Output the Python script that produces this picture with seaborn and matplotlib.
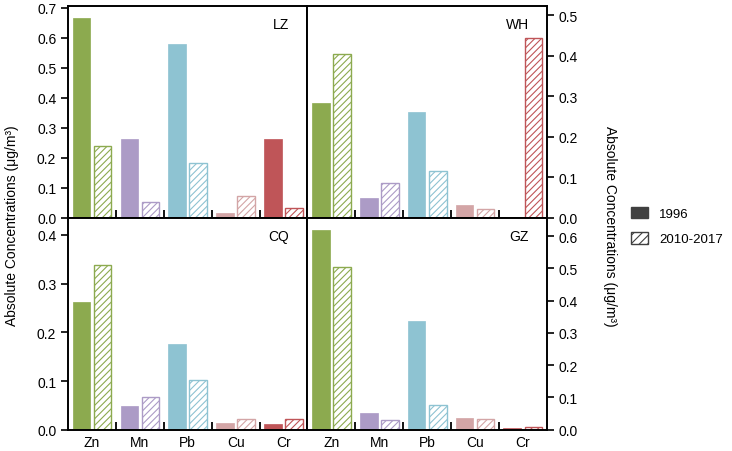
import matplotlib
matplotlib.use("Agg")
import matplotlib.pyplot as plt
from matplotlib.patches import Patch
from matplotlib.ticker import FixedLocator, FormatStrFormatter
import seaborn as sns
import pandas as pd

sns.set_theme(style="ticks")
plt.rcParams["font.family"] = ["Liberation Sans", "DejaVu Sans"]
plt.rcParams["hatch.linewidth"] = 0.8
plt.rcParams["text.color"] = "black"
plt.rcParams["xtick.color"] = "black"
plt.rcParams["ytick.color"] = "black"

elements = ["Zn", "Mn", "Pb", "Cu", "Cr"]
periods = ["1996", "2010-2017"]
colors = ["#8caa4f", "#ac9bc6", "#8ec3d2", "#d3a5a6", "#bf5558"]

lz_1996 = [0.667, 0.262, 0.581, 0.0145, 0.262]
lz_2010 = [0.240, 0.052, 0.182, 0.0725, 0.031]
wh_1996 = [0.282, 0.049, 0.262, 0.032, 0.002]
wh_2010 = [0.405, 0.085, 0.115, 0.022, 0.4435]
cq_1996 = [0.263, 0.048, 0.176, 0.0144, 0.011]
cq_2010 = [0.338, 0.068, 0.102, 0.022, 0.0226]
gz_1996 = [0.619, 0.051, 0.338, 0.037, 0.004]
gz_2010 = [0.503, 0.030, 0.077, 0.032, 0.010]

sites = ["LZ", "WH", "CQ", "GZ"]
site_data = {
    "LZ": (lz_1996, lz_2010),
    "WH": (wh_1996, wh_2010),
    "CQ": (cq_1996, cq_2010),
    "GZ": (gz_1996, gz_2010),
}
ylims = {"LZ": 0.707, "WH": 0.523, "CQ": 0.435, "GZ": 0.657}
yticks = {
    "LZ": [0, 0.1, 0.2, 0.3, 0.4, 0.5, 0.6, 0.7],
    "WH": [0, 0.1, 0.2, 0.3, 0.4, 0.5],
    "CQ": [0, 0.1, 0.2, 0.3, 0.4],
    "GZ": [0, 0.1, 0.2, 0.3, 0.4, 0.5, 0.6],
}

fig, axes = plt.subplots(2, 2, figsize=(7.32, 4.52), dpi=100)
fig.subplots_adjust(left=0.093, right=0.747, top=0.985, bottom=0.047, hspace=0, wspace=0)

for ax, site in zip(axes.flat, sites):
    old, new = site_data[site]
    df = pd.DataFrame({
        "element": elements * 2,
        "value": old + new,
        "period": [periods[0]] * 5 + [periods[1]] * 5,
    })
    sns.barplot(data=df, x="element", y="value", hue="period", order=elements,
                hue_order=periods, width=0.88, gap=0.16, ax=ax, legend=False)
    for i, bar in enumerate(ax.containers[0]):
        bar.set_facecolor(colors[i])
        bar.set_edgecolor(colors[i])
        bar.set_linewidth(0.5)
    for i, bar in enumerate(ax.containers[1]):
        bar.set_facecolor("white")
        bar.set_edgecolor(colors[i])
        bar.set_hatch("/////")
        bar.set_linewidth(1.0)

    ax.set_xlim(-0.5, 4.5)
    ax.set_ylim(0, ylims[site])
    ax.set_xlabel("")
    ax.set_ylabel("")
    ax.yaxis.set_major_locator(FixedLocator(yticks[site]))
    ax.yaxis.set_major_formatter(FormatStrFormatter("%.1f"))
    ax.xaxis.set_minor_locator(FixedLocator([0.5, 1.5, 2.5, 3.5]))
    ax.tick_params(axis="x", which="major", length=0, labelsize=10, pad=4)
    ax.tick_params(axis="x", which="minor", direction="in", length=6, width=1.3)
    ax.tick_params(axis="y", direction="out", length=5, width=1.2, labelsize=10)
    for sp in ax.spines.values():
        sp.set_visible(True)
        sp.set_linewidth(1.4)
        sp.set_color("black")
    ax.text(0.925, 0.915, site, transform=ax.transAxes, ha="right", va="center", fontsize=10)

for ax in axes[0]:
    ax.tick_params(axis="x", which="major", labelbottom=False)
for ax in axes[:, 1]:
    ax.yaxis.tick_right()
    ax.tick_params(axis="y", which="both", left=False, right=True)

label = "Absolute Concentrations (μg/m³)"
fig.text(0.017, 0.5, label, rotation=90, ha="center", va="center", fontsize=10)
fig.text(0.834, 0.5, label, rotation=270, ha="center", va="center", fontsize=10)

handles = [
    Patch(facecolor="#404040", edgecolor="#404040"),
    Patch(facecolor="white", edgecolor="#404040", hatch="////"),
]
fig.legend(handles, periods, loc="center left", bbox_to_anchor=(0.855, 0.498),
           frameon=False, fontsize=9.5, handlelength=1.3, handleheight=1.0,
           handletextpad=0.8, labelspacing=0.9, borderpad=0.2, borderaxespad=0.2)

fig.savefig("out.png", dpi=100)
